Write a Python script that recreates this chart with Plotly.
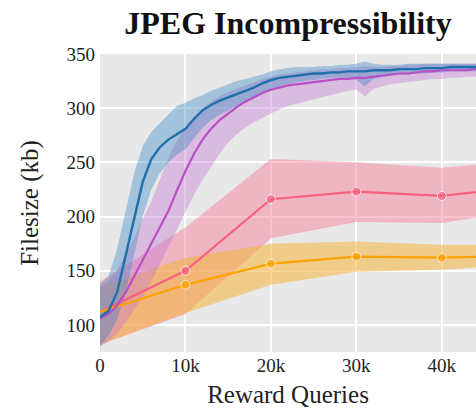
import plotly.graph_objects as go

# ---------------- data ----------------
dense_x = [i * 1000 for i in range(45)]

blue_mean = [107, 113, 130, 165, 200, 232, 253, 264, 271, 276, 281, 290, 298, 303, 307, 310,
             313, 316, 319, 323, 326, 328, 329, 330, 331, 332, 332, 333, 333, 334, 334, 334,
             335, 335, 335, 336, 336, 336, 337, 337, 337, 338, 338, 338, 338]
blue_upper = [137, 145, 170, 205, 240, 265, 278, 286, 294, 302, 305, 309, 312, 316, 319, 322,
              325, 327, 329, 331, 334, 336, 337, 338, 338, 338, 339, 339, 340, 340, 341, 343,
              341, 340, 340, 340, 341, 341, 341, 341, 341, 341, 341, 341, 341]
blue_lower = [80, 90, 105, 130, 165, 200, 225, 240, 250, 257, 262, 272, 282, 289, 294, 298,
              302, 305, 309, 313, 317, 320, 322, 324, 325, 326, 327, 328, 328, 328, 326, 320,
              327, 329, 330, 331, 331, 332, 332, 333, 333, 334, 334, 334, 334]

purple_mean = [106, 110, 118, 130, 145, 160, 175, 190, 205, 224, 242, 258, 271, 281, 289, 295,
               301, 306, 310, 314, 317, 319, 321, 322, 323, 324, 325, 326, 327, 327, 328, 328,
               329, 330, 331, 332, 332, 333, 334, 334, 335, 335, 335, 335, 336]
purple_upper = [135, 140, 150, 165, 180, 198, 214, 234, 254, 270, 282, 292, 300, 306, 311, 315,
                318, 321, 324, 327, 329, 331, 332, 333, 334, 335, 336, 336, 337, 337, 338, 339,
                338, 338, 339, 339, 340, 340, 341, 341, 341, 341, 341, 341, 341]
purple_lower = [80, 85, 92, 102, 114, 126, 140, 155, 172, 188, 204, 220, 234, 246, 258, 268,
                276, 282, 287, 291, 295, 299, 302, 304, 306, 308, 310, 312, 314, 316, 317, 311,
                318, 320, 322, 323, 324, 325, 326, 327, 327, 328, 328, 329, 329]

sparse_x = [0, 10000, 20000, 30000, 40000, 50000]
pink_mean = [112, 150, 216, 223, 219, 228]
pink_upper = [140, 190, 253, 250, 245, 252]
pink_lower = [82, 110, 180, 195, 194, 206]
orange_mean = [112, 137, 156.5, 163, 162, 164]
orange_upper = [135, 162, 175, 177, 174, 174]
orange_lower = [82, 111, 137, 149, 151, 156]

x_tickvals = [0, 10000, 20000, 30000, 40000]
x_ticktext = ["0", "10k", "20k", "30k", "40k"]
y_tickvals = [100, 150, 200, 250, 300, 350]

# ---------------- styles ----------------
BLUE = "#1f6fab"
PURPLE = "#b94fc6"
PINK = "#f7607f"
ORANGE = "#ffa200"
SERIF = "Liberation Serif, Times New Roman, serif"
marker_sizes = [0] + [9] * (len(sparse_x) - 1)

fig = go.Figure()


def band(x, lo, hi, color):
    fig.add_trace(go.Scatter(
        x=list(x) + list(x)[::-1],
        y=list(hi) + list(lo)[::-1],
        fill="toself", fillcolor=color, mode="lines",
        line=dict(width=0), hoverinfo="skip", showlegend=False))


band(sparse_x, pink_lower, pink_upper, "rgba(246,110,140,0.42)")
band(sparse_x, orange_lower, orange_upper, "rgba(244,180,60,0.55)")
band(dense_x, purple_lower, purple_upper, "rgba(196,120,210,0.40)")
band(dense_x, blue_lower, blue_upper, "rgba(70,140,195,0.42)")

fig.add_trace(go.Scatter(x=sparse_x, y=pink_mean, mode="lines+markers",
                         line=dict(color=PINK, width=2.2),
                         marker=dict(color=PINK, size=marker_sizes), showlegend=False))
fig.add_trace(go.Scatter(x=sparse_x, y=orange_mean, mode="lines+markers",
                         line=dict(color=ORANGE, width=2.2),
                         marker=dict(color=ORANGE, size=marker_sizes), showlegend=False))
fig.add_trace(go.Scatter(x=dense_x, y=purple_mean, mode="lines",
                         line=dict(color=PURPLE, width=2.2), showlegend=False))
fig.add_trace(go.Scatter(x=dense_x, y=blue_mean, mode="lines",
                         line=dict(color=BLUE, width=2.4), showlegend=False))

fig.update_layout(
    width=476, height=415,
    margin=dict(l=100, r=0, t=54, b=63),
    paper_bgcolor="white", plot_bgcolor="#e8e8e8",
    font=dict(family=SERIF, color="#222222"),
    title=dict(text="<b>JPEG Incompressibility</b>", x=0.5, xref="paper", xanchor="center",
               y=0.945, yanchor="middle", yref="container",
               font=dict(family=SERIF, size=32, color="#111111")),
)
fig.update_xaxes(range=[0, 44000], tickvals=x_tickvals, ticktext=x_ticktext,
                 showgrid=True, gridcolor="white", gridwidth=1.6, zeroline=False,
                 showline=False, ticks="", tickfont=dict(size=19), automargin=False,
                 title=dict(text="Reward Queries", font=dict(size=25), standoff=10))
fig.update_yaxes(range=[75, 350], tickvals=y_tickvals,
                 showgrid=True, gridcolor="white", gridwidth=1.6, zeroline=False,
                 showline=False, ticks="", tickfont=dict(size=19), automargin=False,
                 ticklabelstandoff=4,
                 title=dict(text="Filesize (kb)", font=dict(size=25), standoff=20))

fig.write_html(
    "out.html",
    config={"displayModeBar": False},
    post_script="document.body.style.margin='0';document.body.style.overflow='hidden';",
)
